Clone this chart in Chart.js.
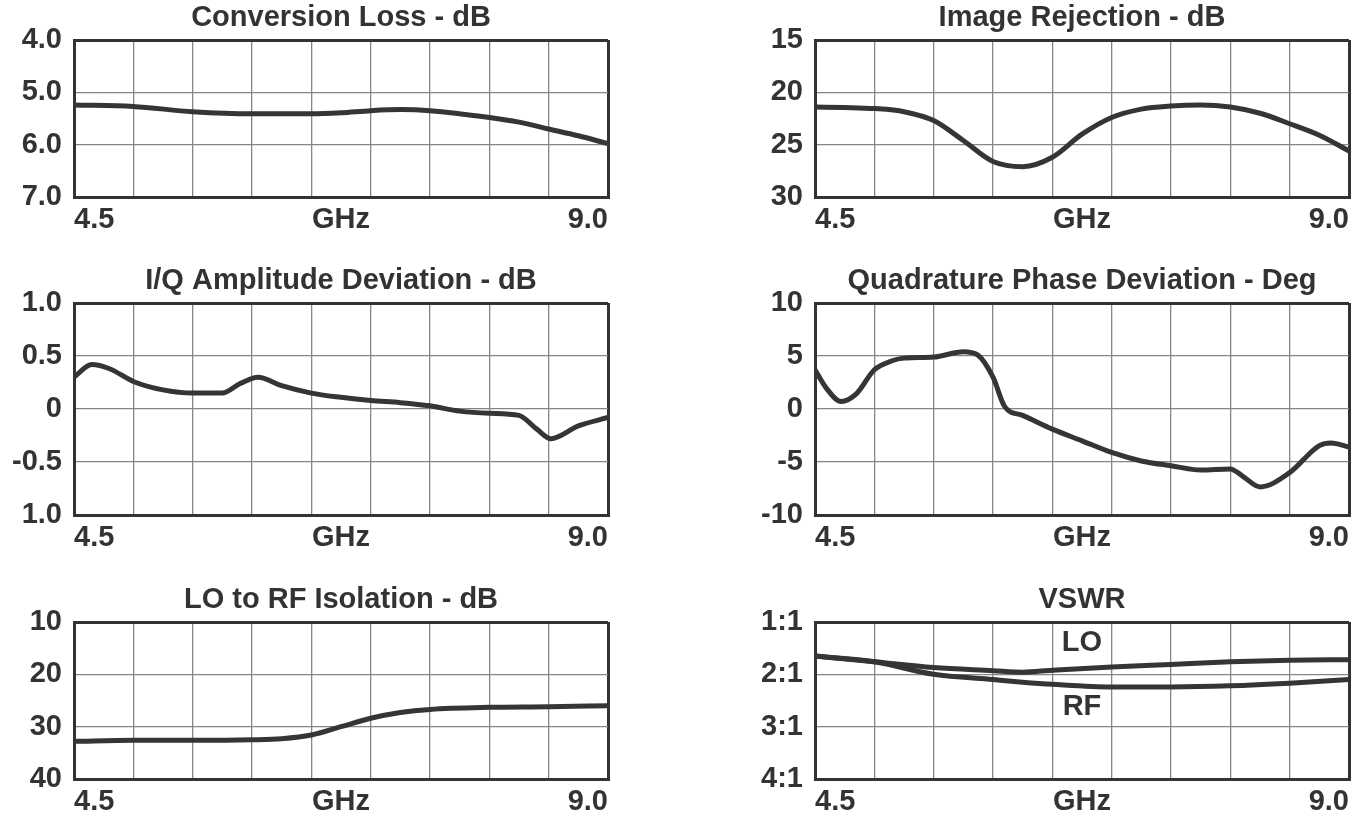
<!DOCTYPE html>
<html>
<head>
<meta charset="utf-8">
<script src="https://cdn.jsdelivr.net/npm/chart.js@4.4.1/dist/chart.umd.min.js"></script>
<style>
	body { margin: 0; background: #fff; }
	#page { position: relative; width: 1359px; height: 816px; overflow: hidden; }
	.cell { position: absolute; width: 682px; }
</style>
</head>
<body>
<div id="page">
	<div class="cell" style="left:0;top:0;height:240px"><canvas id="c1"></canvas></div>
	<div class="cell" style="left:741px;top:0;height:240px"><canvas id="c2"></canvas></div>
	<div class="cell" style="left:0;top:263px;height:295px"><canvas id="c3"></canvas></div>
	<div class="cell" style="left:741px;top:263px;height:295px"><canvas id="c4"></canvas></div>
	<div class="cell" style="left:0;top:582px;height:234px"><canvas id="c5"></canvas></div>
	<div class="cell" style="left:741px;top:582px;height:234px"><canvas id="c6"></canvas></div>
</div>
<script>
// x ticks shared by all six plots (GHz sits in the middle, no grid line there)
const xTickVals = [4.5, 5.0, 5.5, 6.0, 6.5, 6.75, 7.0, 7.5, 8.0, 8.5, 9.0]
const xTickLabels = ["4.5", "", "", "", "", "GHz", "", "", "", "", "9.0"]

// Conversion Loss - dB
const clFreq = [4.5, 5.0, 5.5, 6.0, 6.5, 6.75, 7.0, 7.25, 7.5, 8.0, 8.25, 8.5, 8.75, 9.0]
const clLoss = [5.24, 5.27, 5.37, 5.41, 5.41, 5.39, 5.35, 5.33, 5.35, 5.48, 5.57, 5.70, 5.83, 5.98]
const clTicks = [4, 5, 6, 7]
const clLabels = ["4.0", "5.0", "6.0", "7.0"]

// Image Rejection - dB
const irFreq = [4.5, 4.75, 5.0, 5.25, 5.5, 5.75, 6.0, 6.25, 6.5, 6.75, 7.0, 7.25, 7.5, 7.75, 8.0, 8.25, 8.5, 8.75, 9.0]
const irRej = [21.4, 21.45, 21.55, 21.85, 22.7, 24.6, 26.6, 27.1, 26.2, 24.0, 22.4, 21.6, 21.3, 21.2, 21.4, 22.0, 23.0, 24.1, 25.6]
const irTicks = [15, 20, 25, 30]
const irLabels = ["15", "20", "25", "30"]

// I/Q Amplitude Deviation - dB
const iqFreq = [4.5, 4.65, 4.8, 5.0, 5.25, 5.5, 5.75, 5.9, 6.05, 6.25, 6.5, 6.75, 7.0, 7.25, 7.5, 7.75, 8.0, 8.25, 8.4, 8.52, 8.75, 9.0]
const iqDev = [0.30, 0.42, 0.38, 0.26, 0.18, 0.15, 0.15, 0.24, 0.30, 0.22, 0.15, 0.11, 0.08, 0.06, 0.03, -0.02, -0.04, -0.06, -0.19, -0.28, -0.16, -0.08]
const iqTicks = [1, 0.5, 0, -0.5, -1]
const iqLabels = ["1.0", "0.5", "0", "-0.5", "1.0"]

// Quadrature Phase Deviation - Deg
const qpFreq = [4.5, 4.6, 4.72, 4.85, 5.0, 5.15, 5.25, 5.5, 5.75, 5.87, 6.0, 6.1, 6.25, 6.5, 6.75, 7.0, 7.25, 7.5, 7.75, 8.0, 8.1, 8.25, 8.5, 8.75, 8.85, 9.0]
const qpDev = [3.7, 1.9, 0.7, 1.45, 3.7, 4.55, 4.8, 4.9, 5.4, 5.1, 3.0, 0.2, -0.6, -1.9, -3.0, -4.1, -4.9, -5.35, -5.75, -5.65, -6.3, -7.35, -6.0, -3.45, -3.2, -3.6]
const qpTicks = [10, 5, 0, -5, -10]
const qpLabels = ["10", "5", "0", "-5", "-10"]

// LO to RF Isolation - dB
const isoFreq = [4.5, 5.0, 5.5, 6.0, 6.25, 6.5, 6.75, 7.0, 7.25, 7.5, 8.0, 8.5, 9.0]
const isoDb = [32.8, 32.6, 32.6, 32.5, 32.3, 31.6, 30.0, 28.4, 27.3, 26.7, 26.3, 26.2, 26.0]
const isoTicks = [10, 20, 30, 40]
const isoLabels = ["10", "20", "30", "40"]

// VSWR, LO and RF ports
const vswrFreq = [4.5, 5.0, 5.5, 6.0, 6.25, 6.5, 7.0, 7.5, 8.0, 8.5, 9.0]
const vswrLO = [1.65, 1.76, 1.87, 1.93, 1.96, 1.92, 1.86, 1.81, 1.76, 1.73, 1.72]
const vswrRF = [1.65, 1.76, 2.0, 2.10, 2.15, 2.19, 2.24, 2.24, 2.22, 2.17, 2.10]
const vswrTicks = [1, 2, 3, 4]
const vswrLabels = ["1:1", "2:1", "3:1", "4:1"]

const ink = "#333333"
const gridGray = "#858585"
const fontFamily = "'Liberation Sans', Arial, sans-serif"
const font = { family: fontFamily, weight: "bold", size: 29 }
const axisWidth = 74

const pts = (xs, ys) => xs.map((x, i) => ({ x: x, y: ys[i] }))

// frame edges are drawn as heavy grid lines
const edge = (ctx, heavy, light) => {
	const s = ctx.scale
	const v = ctx.tick ? ctx.tick.value : null
	return v === s.min || v === s.max ? heavy : light
}

const vswrText = {
	id: "vswrText",
	afterDatasetsDraw(chart, args, opts) {
		if (!opts.items) return
		const c = chart.ctx
		c.save()
		c.font = "bold 29px " + fontFamily
		c.fillStyle = ink
		c.textAlign = "center"
		c.textBaseline = "middle"
		opts.items.forEach((it) => {
			c.fillText(it.text, chart.scales.x.getPixelForValue(it.x), chart.scales.y.getPixelForValue(it.y))
		})
		c.restore()
	},
}

function makeChart(id, title, series, yMin, yMax, yTicks, yLabels, reverse, extra) {
	const isBottom = id === "c5" || id === "c6"
	new Chart(document.getElementById(id), {
		type: "line",
		data: {
			datasets: series.map((d) => ({
				data: d,
				borderColor: "#353535",
				borderWidth: 5,
				pointRadius: 0,
				cubicInterpolationMode: "monotone",
				fill: false,
			})),
		},
		options: {
			responsive: true,
			maintainAspectRatio: false,
			animation: false,
			events: [],
			layout: { padding: 0 },
			plugins: {
				legend: { display: false },
				tooltip: { enabled: false },
				title: {
					display: true,
					text: title,
					color: ink,
					font: font,
					padding: { top: 0.5, bottom: 4.7 },
				},
				vswrText: { items: extra },
			},
			scales: {
				x: {
					type: "linear",
					min: 4.5,
					max: 9.0,
					afterBuildTicks: (s) => { s.ticks = xTickVals.map((v) => ({ value: v })) },
					afterFit: (s) => { s.height = isBottom ? 37 : 43 },
					ticks: {
						autoSkip: false,
						maxRotation: 0,
						align: "inner",
						padding: 6,
						color: ink,
						font: font,
						callback: (v, i) => xTickLabels[i],
					},
					grid: {
						drawTicks: false,
						color: (ctx) => (ctx.tick && ctx.tick.value === 6.75 ? "rgba(0,0,0,0)" : edge(ctx, ink, gridGray)),
						lineWidth: (ctx) => edge(ctx, 3, 1.3),
					},
					border: { display: true, color: ink, width: 3 },
				},
				y: {
					type: "linear",
					min: yMin,
					max: yMax,
					reverse: reverse,
					afterBuildTicks: (s) => { s.ticks = yTicks.map((v) => ({ value: v })) },
					afterFit: (s) => { s.width = axisWidth },
					ticks: {
						autoSkip: false,
						padding: 12,
						color: ink,
						font: font,
						callback: (v, i) => yLabels[i],
					},
					grid: {
						drawTicks: false,
						color: (ctx) => edge(ctx, ink, gridGray),
						lineWidth: (ctx) => edge(ctx, 3, 1.3),
					},
					border: { display: true, color: ink, width: 3 },
				},
				// empty axis on the right balances the left one so the title centres over the plot
				yPad: {
					type: "linear",
					position: "right",
					display: true,
					min: 0,
					max: 1,
					afterFit: (s) => { s.width = axisWidth },
					ticks: { display: false },
					grid: { display: false },
					border: { display: false },
				},
			},
		},
		plugins: [vswrText],
	})
}

makeChart("c1", "Conversion Loss - dB", [pts(clFreq, clLoss)], 4, 7, clTicks, clLabels, true)
makeChart("c2", "Image Rejection - dB", [pts(irFreq, irRej)], 15, 30, irTicks, irLabels, true)
makeChart("c3", "I/Q Amplitude Deviation - dB", [pts(iqFreq, iqDev)], -1, 1, iqTicks, iqLabels, false)
makeChart("c4", "Quadrature Phase Deviation - Deg", [pts(qpFreq, qpDev)], -10, 10, qpTicks, qpLabels, false)
makeChart("c5", "LO to RF Isolation - dB", [pts(isoFreq, isoDb)], 10, 40, isoTicks, isoLabels, true)
makeChart("c6", "VSWR", [pts(vswrFreq, vswrLO), pts(vswrFreq, vswrRF)], 1, 4, vswrTicks, vswrLabels, true,
	[{ text: "LO", x: 6.75, y: 1.41 }, { text: "RF", x: 6.75, y: 2.63 }])
</script>
</body>
</html>
